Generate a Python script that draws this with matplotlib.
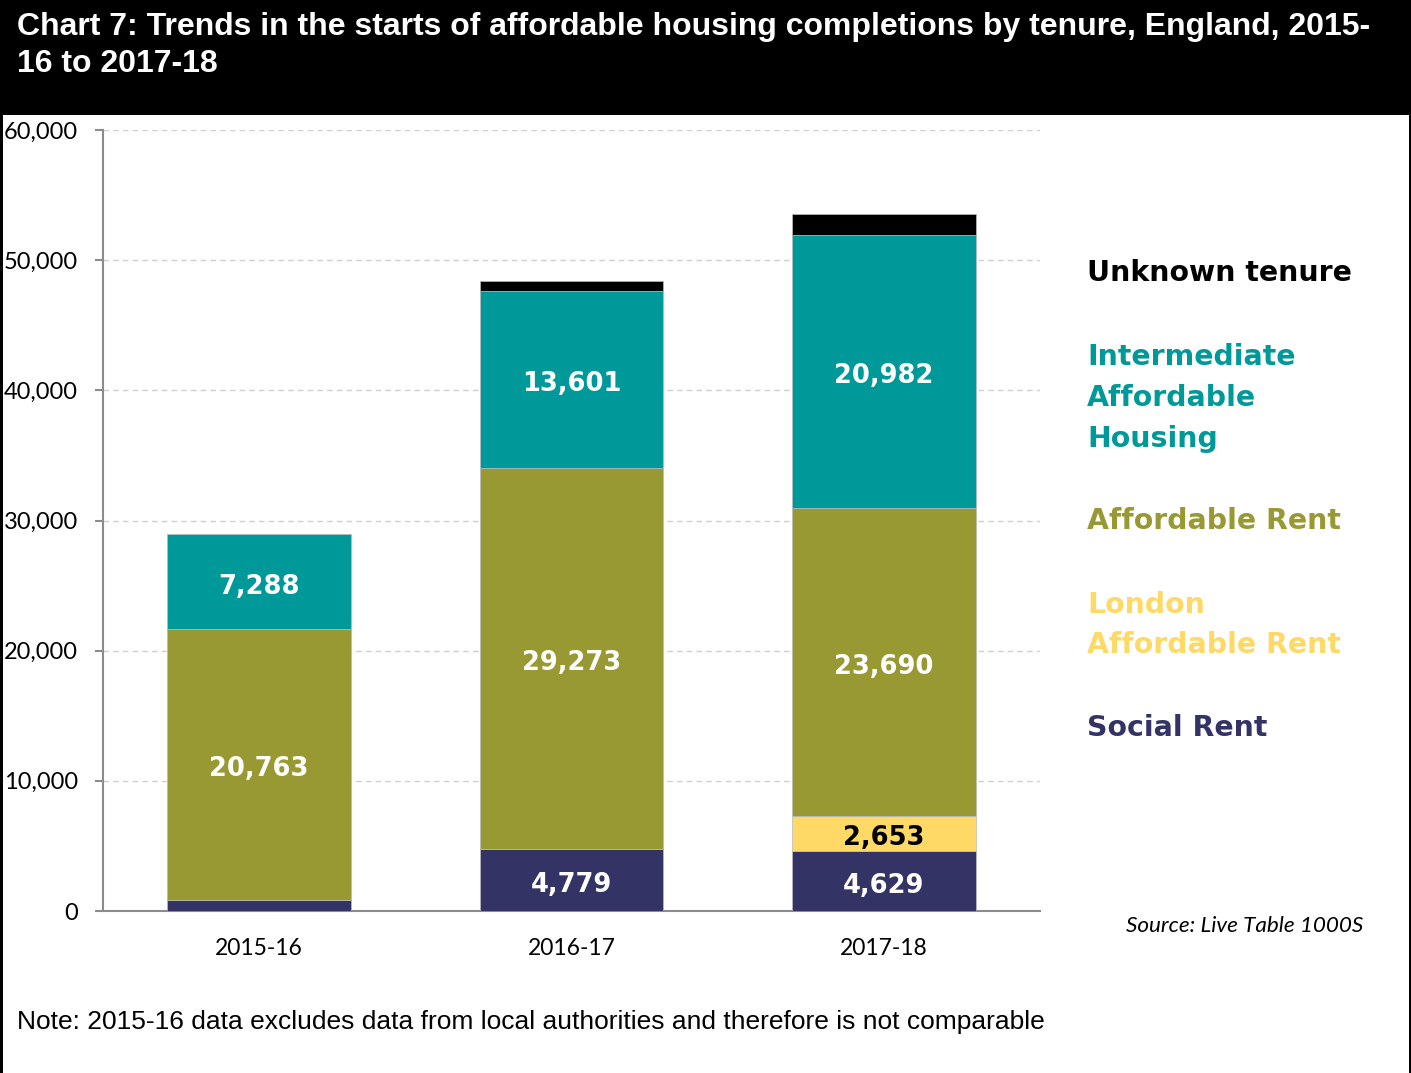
import matplotlib.pyplot as plt
from matplotlib.patches import Rectangle
from matplotlib.ticker import FuncFormatter
import numpy as np

# starts by tenure, England
years = ["2015-16", "2016-17", "2017-18"]
social_rent = [880, 4779, 4629]
london_aff_rent = [0, 0, 2653]
affordable_rent = [20763, 29273, 23690]
intermediate = [7288, 13601, 20982]
unknown = [0, 770, 1590]

series = [
    ("Social Rent", social_rent, "#333366", "white"),
    ("London\nAffordable Rent", london_aff_rent, "#FFD966", "black"),
    ("Affordable Rent", affordable_rent, "#999933", "white"),
    ("Intermediate\nAffordable\nHousing", intermediate, "#009999", "white"),
    ("Unknown tenure", unknown, "#000000", "white"),
]

W, H = 1411, 1073
fig = plt.figure(figsize=(W / 100, H / 100), dpi=100)
fig.patch.set_facecolor("white")

# black title band + thin frame on the sides
fig.patches.append(Rectangle((0, 1 - 115 / H), 1, 115 / H, transform=fig.transFigure,
                             facecolor="black", edgecolor="none", zorder=0))
fig.patches.append(Rectangle((0, 0), 3 / W, 1, transform=fig.transFigure,
                             facecolor="black", edgecolor="none", zorder=0))
fig.patches.append(Rectangle((1 - 2 / W, 0), 2 / W, 1, transform=fig.transFigure,
                             facecolor="black", edgecolor="none", zorder=0))

fig.text(17 / W, 1 - 12 / H,
         "Chart 7: Trends in the starts of affordable housing completions by tenure, England, 2015-\n16 to 2017-18",
         color="white", fontsize=23, fontweight="bold", family="Liberation Sans",
         ha="left", va="top", linespacing=1.32)

ax = fig.add_axes([103 / W, (H - 911) / H, (1040 - 103) / W, 781 / H])
x = np.arange(len(years))
bottom = np.zeros(len(years))
for name, vals, col, txtcol in series:
    vals = np.array(vals, dtype=float)
    ax.bar(x, vals, width=0.589, bottom=bottom, color=col, edgecolor="#bbbbbb",
           linewidth=0.5, zorder=3)
    for xi, b, v in zip(x, bottom, vals):
        if v > 2000:
            ax.annotate(f"{int(v):,}", (xi, b + v / 2), xytext=(0, -2),
                        textcoords="offset pixels", ha="center", va="center_baseline",
                        color=txtcol, fontsize=18.5, fontweight="bold",
                        family="DejaVu Sans", zorder=4)
    bottom += vals

ax.set_xlim(-0.5, 2.5)
ax.set_ylim(0, 60000)
ax.set_yticks(np.arange(0, 60001, 10000))
ax.yaxis.set_major_formatter(FuncFormatter(lambda v, p: f"{int(v):,}"))
ax.set_xticks(x)
ax.set_xticklabels(years)
ax.yaxis.grid(True, color="#d0d0d0", linestyle=(0, (4, 3)), linewidth=1.0, zorder=0)
ax.set_axisbelow(True)
for s in ["top", "right"]:
    ax.spines[s].set_visible(False)
for s in ["left", "bottom"]:
    ax.spines[s].set_color("#8c8c8c")
    ax.spines[s].set_linewidth(1.5)
ax.tick_params(axis="y", length=6, color="#8c8c8c", width=1.5, pad=12, labelsize=17)
ax.tick_params(axis="x", length=0, pad=19.5, labelsize=16.5)
for lab in ax.get_xticklabels() + ax.get_yticklabels():
    lab.set_family("Lato")

# right-hand labels used as the key
key_pos = {
    "Unknown tenure": 273,
    "Intermediate\nAffordable\nHousing": 398,
    "Affordable Rent": 521,
    "London\nAffordable Rent": 625,
    "Social Rent": 728,
}
for name, vals, col, txtcol in series:
    fig.text(1087 / W, 1 - key_pos[name] / H, name, color=col, fontsize=20.4,
             fontweight="bold", family="DejaVu Sans", ha="left", va="center",
             linespacing=1.58)

fig.text(1363 / W, 1 - 926 / H, "Source: Live Table 1000S", style="italic",
         fontsize=16.2, family="Lato", ha="right", va="center")
fig.text(17 / W, 1 - 1022 / H,
         "Note: 2015-16 data excludes data from local authorities and therefore is not comparable",
         fontsize=19, family="Liberation Sans", ha="left", va="center")

fig.savefig("out.png", dpi=100)
